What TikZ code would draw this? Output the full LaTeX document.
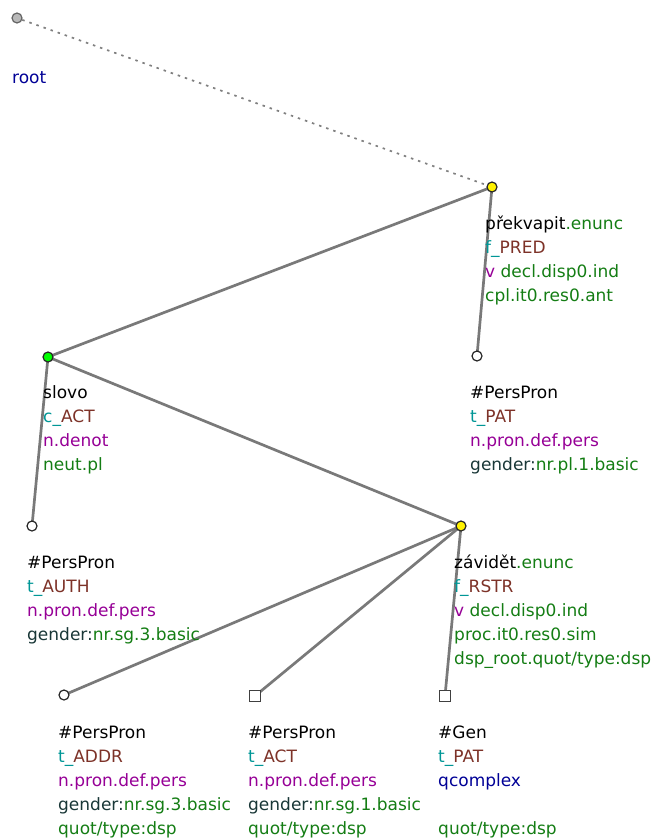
\documentclass[tikz,border=0pt]{standalone}
\usepackage{fontspec}
\setmainfont{DejaVu Sans}
\usepackage{xcolor}
\usetikzlibrary{backgrounds}
\definecolor{grm}{RGB}{20,125,20}
\definecolor{pre}{RGB}{0,150,150}
\definecolor{fun}{RGB}{125,50,40}
\definecolor{nty}{RGB}{150,0,150}
\definecolor{gnd}{RGB}{25,55,55}
\definecolor{blu}{RGB}{0,0,150}
\newcommand{\gr}[1]{\textcolor{grm}{#1}}
\newcommand{\fn}[2]{\textcolor{pre}{#1\_}\textcolor{fun}{#2}}
\newcommand{\nt}[1]{\textcolor{nty}{#1}}
\newcommand{\gd}[1]{\textcolor{gnd}{gender:}\gr{#1}}

\begin{document}
\begin{tikzpicture}[
	x=1pt, y=-1pt,
	e/.style = {draw=gray!95!black, line width=2.7pt},
	re/.style = {draw=gray, line width=1.7pt, dash pattern=on 2.5pt off 5pt},
	tn/.style = {circle, draw=black!85, line width=1.2pt, minimum size=10pt, inner sep=0pt},
	sq/.style = {rectangle, draw=black!75, fill=white, line width=1.2pt, minimum size=11pt, inner sep=0pt},
	lab/.style = {anchor=north west, inner sep=0pt, align=left, font=\fontsize{17}{24}\selectfont}
	]
	\useasboundingbox (0,0) rectangle (651,838);
	
	%Nodes
	\node[tn, fill=gray!55, draw=black!60]	(root)	at	(17, 18)	{};
	\node[tn, fill=yellow]	(pr)	at	(492, 187)	{};
	\node[tn, fill=green]	(sl)	at	(48, 357)	{};
	\node[tn, fill=white]	(pat)	at	(477, 356)	{};
	\node[tn, fill=white]	(auth)	at	(32, 526)	{};
	\node[tn, fill=yellow]	(zv)	at	(461, 526)	{};
	\node[tn, fill=white]	(addr)	at	(64, 695)	{};
	\node[sq]	(act)	at	(255, 696)	{};
	\node[sq]	(gen)	at	(445, 696)	{};
	
	%Lines
	\begin{scope}[on background layer]
	\draw[re]	(root)	--	(pr);
	\draw[e]	(pr.center)	--	(sl.center);
	\draw[e]	(pr.center)	--	(pat.center);
	\draw[e]	(sl.center)	--	(auth.center);
	\draw[e]	(sl.center)	--	(zv.center);
	\draw[e]	(zv.center)	--	(addr.center);
	\draw[e]	(zv.center)	--	(act.center);
	\draw[e]	(zv.center)	--	(gen.center);
	\end{scope}
	
	%Labels
	\node[lab]	(root-l)	at	(12, 66)	{\strut\textcolor{blu}{root}};
	\node[lab]	(pr-l)	at	(485, 212)	{\strut překvapit\gr{.enunc}\\\strut\fn{f}{PRED}\\\strut\nt{v} \gr{decl.disp0.ind}\\\strut\gr{cpl.it0.res0.ant}};
	\node[lab]	(sl-l)	at	(43, 381)	{\strut slovo\\\strut\fn{c}{ACT}\\\strut\nt{n.denot}\\\strut\gr{neut.pl}};
	\node[lab]	(pat-l)	at	(470, 381)	{\strut\#PersPron\\\strut\fn{t}{PAT}\\\strut\nt{n.pron.def.pers}\\\strut\gd{nr.pl.1.basic}};
	\node[lab]	(auth-l)	at	(27, 551)	{\strut\#PersPron\\\strut\fn{t}{AUTH}\\\strut\nt{n.pron.def.pers}\\\strut\gd{nr.sg.3.basic}};
	\node[lab]	(zv-l)	at	(454, 551)	{\strut závidět\gr{.enunc}\\\strut\fn{f}{RSTR}\\\strut\nt{v} \gr{decl.disp0.ind}\\\strut\gr{proc.it0.res0.sim}\\\strut\gr{dsp\_root.quot/type:dsp}};
	\node[lab]	(addr-l)	at	(58, 721)	{\strut\#PersPron\\\strut\fn{t}{ADDR}\\\strut\nt{n.pron.def.pers}\\\strut\gd{nr.sg.3.basic}\\\strut\gr{quot/type:dsp}};
	\node[lab]	(act-l)	at	(248, 721)	{\strut\#PersPron\\\strut\fn{t}{ACT}\\\strut\nt{n.pron.def.pers}\\\strut\gd{nr.sg.1.basic}\\\strut\gr{quot/type:dsp}};
	\node[lab]	(gen-l)	at	(438, 721)	{\strut\#Gen\\\strut\fn{t}{PAT}\\\strut\textcolor{blu}{qcomplex}\\\strut\\\strut\gr{quot/type:dsp}};
	
\end{tikzpicture}
\end{document}
